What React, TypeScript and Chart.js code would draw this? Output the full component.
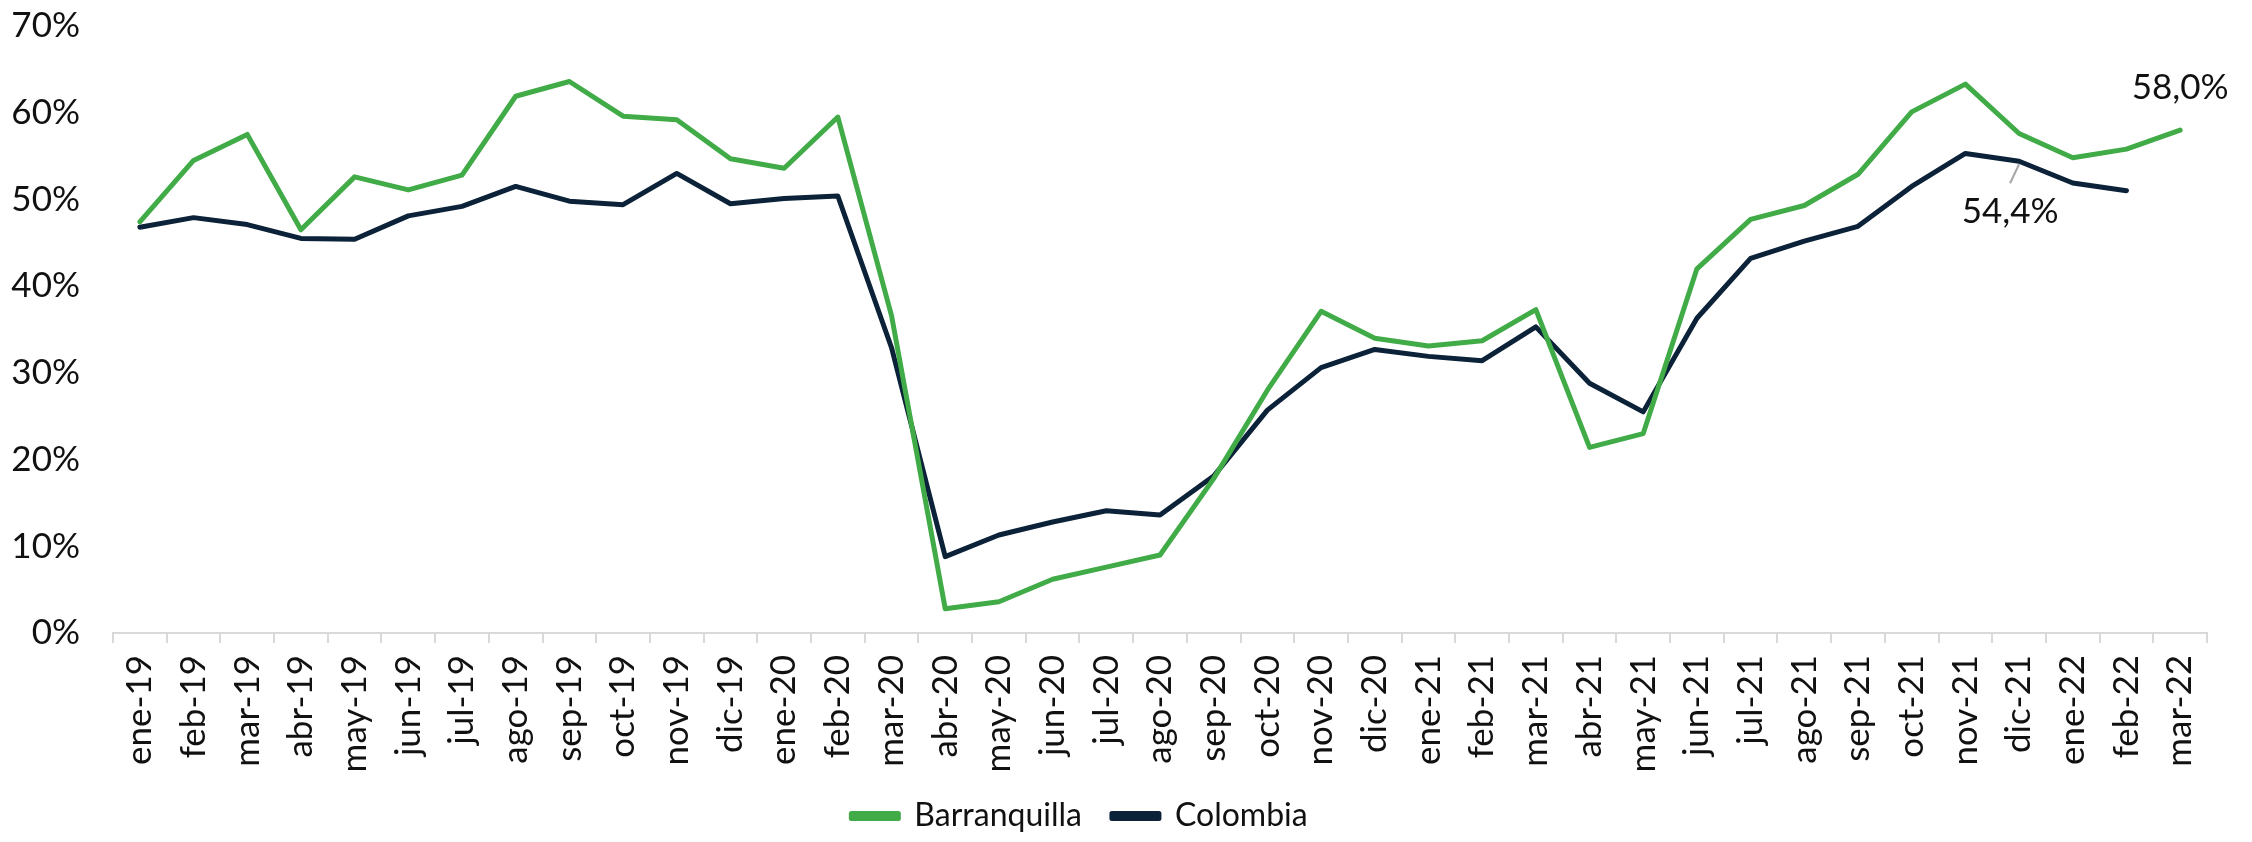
import React, { useEffect, useRef } from "react";
import { Chart, registerables } from "chart.js";

Chart.register(...registerables);

const months: string[] = [
  "ene-19", "feb-19", "mar-19", "abr-19", "may-19", "jun-19", "jul-19", "ago-19", "sep-19", "oct-19", "nov-19", "dic-19",
  "ene-20", "feb-20", "mar-20", "abr-20", "may-20", "jun-20", "jul-20", "ago-20", "sep-20", "oct-20", "nov-20", "dic-20",
  "ene-21", "feb-21", "mar-21", "abr-21", "may-21", "jun-21", "jul-21", "ago-21", "sep-21", "oct-21", "nov-21", "dic-21",
  "ene-22", "feb-22", "mar-22",
];

const barranquilla: number[] = [
  47.4, 54.5, 57.5, 46.5, 52.6, 51.1, 52.8, 61.9, 63.6, 59.6, 59.2, 54.7,
  53.6, 59.5, 36.6, 2.8, 3.6, 6.2, 7.6, 9.0, 17.8, 28.0, 37.1, 34.0,
  33.1, 33.7, 37.3, 21.4, 23.0, 42.0, 47.7, 49.3, 52.9, 60.1, 63.3, 57.6,
  54.8, 55.8, 58.0,
];

const colombia: (number | null)[] = [
  46.8, 47.9, 47.1, 45.5, 45.4, 48.1, 49.2, 51.5, 49.8, 49.4, 53.0, 49.5,
  50.1, 50.4, 32.9, 8.8, 11.3, 12.8, 14.1, 13.6, 18.1, 25.7, 30.6, 32.7,
  31.9, 31.4, 35.3, 28.8, 25.5, 36.3, 43.2, 45.2, 46.9, 51.5, 55.3, 54.4,
  51.9, 51.0, null,
];

const seriesNames: string[] = ["Barranquilla", "Colombia"];
const seriesColors: string[] = ["#41AC47", "#0B2238"];
const yTicks: number[] = [0, 10, 20, 30, 40, 50, 60, 70];

const FONT = "Lato";

const fmt = (v: number) => v.toFixed(1).replace(".", ",") + "%";

const annotationPlugin = {
  id: "pointLabels",
  afterDatasetsDraw(chart: any) {
    const ctx = chart.ctx;
    ctx.save();
    ctx.font = `35px ${FONT}`;
    ctx.fillStyle = "#111";
    ctx.textAlign = "center";
    ctx.textBaseline = "middle";
    const m0 = chart.getDatasetMeta(0);
    const i0 = barranquilla.length - 1;
    const p0 = m0.data[i0];
    if (p0) ctx.fillText(fmt(barranquilla[i0]), p0.x, p0.y - 42);
    const m1 = chart.getDatasetMeta(1);
    const i1 = 35;
    const p1 = m1.data[i1];
    if (p1) {
      ctx.strokeStyle = "#a6a6a6";
      ctx.lineWidth = 2;
      ctx.beginPath();
      ctx.moveTo(p1.x, p1.y + 3);
      ctx.lineTo(p1.x - 9, p1.y + 22);
      ctx.stroke();
      ctx.fillText(fmt(colombia[i1] as number), p1.x - 9, p1.y + 50);
    }
    ctx.restore();
  },
};

const legendShift = {
  id: "legendShift",
  afterLayout(chart: any) {
    const l = chart.legend;
    if (l) {
      l.right = l.right - 48;
    }
  },
};

export default function App() {
  const ref = useRef<HTMLCanvasElement | null>(null);
  useEffect(() => {
    if (!ref.current) return;
    const chart = new Chart(ref.current, {
      type: "line",
      data: {
        labels: months,
        datasets: [
          {
            label: seriesNames[0],
            data: barranquilla,
            borderColor: seriesColors[0],
            backgroundColor: seriesColors[0],
            borderWidth: 5,
            pointRadius: 0,
            tension: 0,
            borderCapStyle: "round",
            borderJoinStyle: "round",
          },
          {
            label: seriesNames[1],
            data: colombia,
            borderColor: seriesColors[1],
            backgroundColor: seriesColors[1],
            borderWidth: 5,
            pointRadius: 0,
            tension: 0,
            borderCapStyle: "round",
            borderJoinStyle: "round",
          },
        ],
      },
      options: {
        animation: false,
        responsive: true,
        maintainAspectRatio: false,
        layout: { padding: { top: 0, right: 45, left: 0, bottom: 0 } },
        plugins: {
          tooltip: { enabled: false },
          legend: {
            position: "bottom",
            labels: {
              font: { family: FONT, size: 32 },
              color: "#111",
              boxWidth: 47,
              boxHeight: 5,
              padding: 30,
            },
          },
        },
        scales: {
          x: {
            offset: true,
            afterFit: (s: any) => {
              s.height = 137;
            },
            grid: {
              offset: true,
              drawOnChartArea: false,
              drawTicks: true,
              tickLength: 10,
              color: "#d9d9d9",
              lineWidth: 2,
            },
            border: { display: true, color: "#d9d9d9", width: 2 },
            ticks: {
              autoSkip: false,
              maxRotation: 90,
              minRotation: 90,
              padding: 12,
              color: "#111",
              font: { family: FONT, size: 35 },
            },
          },
          y: {
            min: 0,
            max: 70,
            afterFit: (s: any) => {
              s.width = 113;
              s.paddingTop = 26;
              s.paddingBottom = 20;
            },
            afterBuildTicks: (s: any) => {
              s.ticks = yTicks.map((v) => ({ value: v }));
            },
            grid: { display: false, drawTicks: false },
            border: { display: false },
            ticks: {
              padding: 33,
              color: "#111",
              font: { family: FONT, size: 35 },
              callback: (v: any) => `${v}%`,
            },
          },
        },
      },
      plugins: [annotationPlugin, legendShift],
    });
    return () => chart.destroy();
  }, []);

  return (
    <div style={{ position: "fixed", left: 0, top: 0, width: 2252, height: 842, background: "#fff" }}>
      <canvas ref={ref} />
    </div>
  );
}
